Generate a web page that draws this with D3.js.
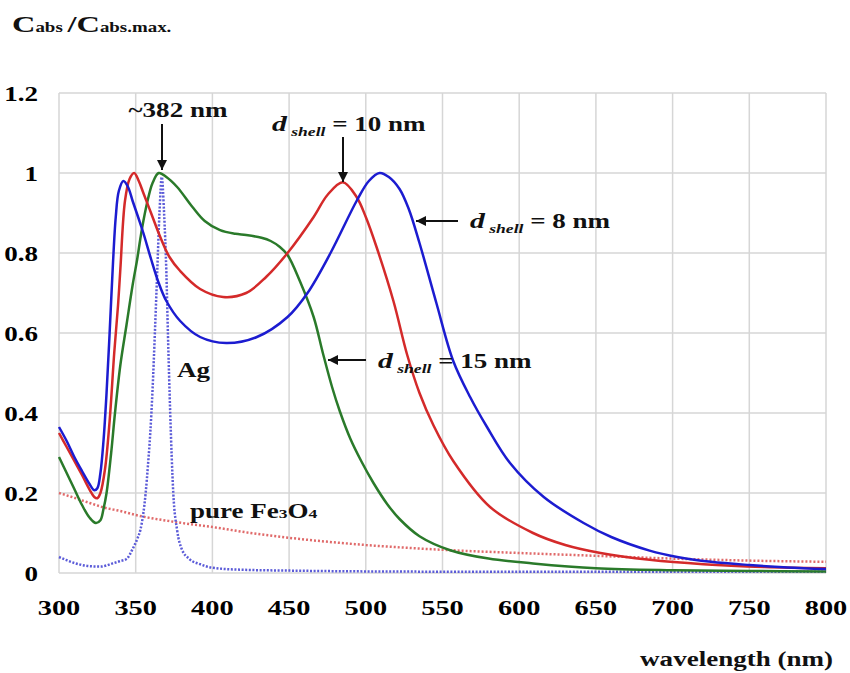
<!DOCTYPE html>
<html>
<meta charset="utf-8" />
<script src="https://d3js.org/d3.v7.min.js"></script>
<body>
<div id="my_dataviz"></div>
<script>
// wavelength (nm) / normalised absorption
var shell8 = [[300,0.365],[305,0.33],[310,0.29],[315,0.255],[320,0.222],[323,0.207],[325,0.212],[327,0.25],[329,0.33],[331,0.45],[333,0.6],[335,0.76],[337,0.89],[339,0.955],[342,0.98],[345,0.965],[348,0.93],[352,0.885],[355,0.85],[360,0.785],[365,0.725],[370,0.68],[379,0.63],[392,0.59],[409,0.575],[429,0.59],[449,0.64],[462,0.7],[477,0.8],[494,0.93],[502,0.98],[509,1.0],[515,0.99],[522,0.96],[528,0.91],[535,0.825],[546,0.675],[557,0.53],[568,0.44],[579,0.365],[594,0.275],[616,0.19],[642,0.125],[660,0.09],[685,0.056],[703,0.04],[725,0.028],[750,0.02],[775,0.014],[800,0.01]];
var shell10 = [[300,0.35],[305,0.315],[310,0.28],[315,0.245],[320,0.208],[323,0.19],[325,0.187],[327,0.2],[330,0.26],[333,0.38],[336,0.55],[338.5,0.67],[340,0.76],[343,0.93],[346,0.985],[349,1.0],[352,0.98],[355,0.95],[360,0.9],[366,0.84],[372,0.79],[379,0.755],[392,0.71],[407,0.69],[422,0.7],[435,0.74],[449,0.8],[466,0.89],[475,0.945],[485,0.977],[494,0.94],[500,0.89],[507,0.815],[518,0.68],[527,0.545],[535,0.45],[544,0.37],[557,0.28],[581,0.165],[609,0.1],[630,0.07],[653,0.05],[685,0.033],[720,0.022],[760,0.015],[800,0.012]];
var shell15 = [[300,0.29],[305,0.25],[310,0.21],[315,0.17],[320,0.138],[324,0.125],[327,0.132],[329,0.16],[331,0.2],[334,0.3],[336.5,0.4],[340,0.52],[344,0.62],[348,0.72],[351,0.785],[353,0.835],[355,0.88],[358,0.935],[361,0.975],[365,1.0],[370,0.99],[377,0.965],[387,0.915],[395,0.88],[405,0.857],[415,0.848],[422,0.845],[432,0.838],[438,0.83],[444,0.815],[449,0.795],[457,0.73],[466,0.64],[472,0.55],[478,0.465],[483,0.405],[490,0.335],[497,0.28],[505,0.225],[514,0.172],[522,0.135],[535,0.092],[555,0.057],[580,0.036],[609,0.024],[650,0.012],[700,0.007],[750,0.005],[800,0.004]];
var silver = [[300,0.04],[305,0.032],[310,0.025],[315,0.02],[320,0.017],[327,0.016],[335,0.024],[340,0.03],[344,0.035],[348,0.06],[351,0.085],[353,0.107],[355,0.15],[356.5,0.2],[358,0.27],[359.5,0.35],[361,0.46],[362.5,0.6],[364,0.75],[365.5,0.9],[367,0.99],[368.5,0.9],[370,0.75],[371,0.6],[372.5,0.4],[374.5,0.2],[377,0.107],[380,0.06],[385,0.035],[392,0.022],[400,0.013],[420,0.008],[450,0.006],[500,0.004],[600,0.003],[700,0.003],[800,0.003]];
var fe3o4 = [[300,0.2],[310,0.188],[320,0.175],[330,0.163],[340,0.155],[350,0.145],[375,0.128],[400,0.115],[425,0.1],[450,0.088],[500,0.07],[550,0.058],[600,0.05],[650,0.043],[700,0.036],[750,0.031],[800,0.028]];

var xTicks = [300,350,400,450,500,550,600,650,700,750,800];
var yTicks = [0,0.2,0.4,0.6,0.8,1,1.2];

var margin = {top: 93, right: 24, bottom: 100, left: 59},
    width = 850 - margin.left - margin.right,
    height = 673 - margin.top - margin.bottom;

var svg = d3.select("#my_dataviz")
  .append("svg")
    .attr("width", 850)
    .attr("height", 673)
    .style("background", "#fff");

var g = svg.append("g")
    .attr("transform", "translate(" + margin.left + "," + margin.top + ")");

var x = d3.scaleLinear().domain([300, 800]).range([0, width]);
var y = d3.scaleLinear().domain([0, 1.2]).range([height, 0]);

// the axis title is about 193px wide in the figure; stretch all text to that
var probe = svg.append("text").attr("font-weight", "bold").attr("font-size", 20).text("wavelength (nm)");
var SX = 193 / probe.node().getComputedTextLength();
probe.remove();

// grid
g.append("g").selectAll("line").data(xTicks).enter().append("line")
  .attr("x1", function(d){ return x(d) }).attr("x2", function(d){ return x(d) })
  .attr("y1", 0).attr("y2", height)
  .attr("stroke", "#d6d6d6").attr("stroke-width", 1.5);
g.append("g").selectAll("line").data(yTicks).enter().append("line")
  .attr("x1", 0).attr("x2", width)
  .attr("y1", function(d){ return y(d) }).attr("y2", function(d){ return y(d) })
  .attr("stroke", "#d6d6d6").attr("stroke-width", 1.5);

// tick labels
g.append("g").selectAll("text").data(xTicks).enter().append("text")
  .attr("transform", function(d){ return "translate(" + x(d) + "," + (height + 42) + ") scale(" + SX + ",1)" })
  .attr("text-anchor", "middle")
  .attr("font-weight", "bold").attr("font-size", 21)
  .text(function(d){ return d });
g.append("g").selectAll("text").data(yTicks).enter().append("text")
  .attr("transform", function(d){ return "translate(-21," + (y(d) + 8) + ") scale(" + SX + ",1)" })
  .attr("text-anchor", "end")
  .attr("font-weight", "bold").attr("font-size", 20)
  .text(function(d){ return d });

// curves
var smooth = d3.line()
  .x(function(d){ return x(d[0]) })
  .y(function(d){ return y(d[1]) })
  .curve(d3.curveCatmullRom.alpha(0.5));
var dotted = d3.line()
  .x(function(d){ return x(d[0]) })
  .y(function(d){ return y(d[1]) })
  .curve(d3.curveMonotoneX);

g.append("path").datum(fe3o4)
  .attr("fill", "none").attr("stroke", "#e06a6a").attr("stroke-width", 2.5)
  .attr("stroke-dasharray", "2,2").attr("d", dotted);
g.append("path").datum(silver)
  .attr("fill", "none").attr("stroke", "#5b5bd8").attr("stroke-width", 2.5)
  .attr("stroke-dasharray", "2,1.6").attr("d", dotted);
g.append("path").datum(shell15)
  .attr("fill", "none").attr("stroke", "#2a7a2a").attr("stroke-width", 2.5).attr("d", smooth);
g.append("path").datum(shell10)
  .attr("fill", "none").attr("stroke", "#d42a2a").attr("stroke-width", 2.5).attr("d", smooth);
g.append("path").datum(shell8)
  .attr("fill", "none").attr("stroke", "#1c1cd0").attr("stroke-width", 2.5).attr("d", smooth);

// arrows
svg.append("defs").append("marker")
  .attr("id", "head").attr("viewBox", "0 0 10 10")
  .attr("refX", 10).attr("refY", 5)
  .attr("markerWidth", 5).attr("markerHeight", 5)
  .attr("markerUnits", "strokeWidth")
  .attr("orient", "auto")
  .append("path").attr("d", "M0,0L10,5L0,10z").attr("fill", "#111");

function arrow(x1, y1, x2, y2) {
  svg.append("line")
    .attr("x1", x1).attr("y1", y1).attr("x2", x2).attr("y2", y2)
    .attr("stroke", "#111").attr("stroke-width", 2)
    .attr("marker-end", "url(#head)");
}
arrow(162, 124, 162, 170);
arrow(343, 137, 343, 182);
arrow(458, 221, 416, 221);
arrow(366, 360, 328, 360);

// labels
function label(px, py, anchor) {
  return svg.append("text")
    .attr("transform", "translate(" + px + "," + py + ") scale(" + SX + ",1)")
    .attr("text-anchor", anchor || "start")
    .attr("font-weight", "bold").attr("font-size", 20)
    .attr("fill", "#111");
}
function shellLabel(px, py, val) {
  var t = label(px, py);
  t.append("tspan").attr("font-style", "italic").attr("font-size", 22).text("d");
  t.append("tspan").attr("font-style", "italic").attr("font-size", 13).attr("dy", 5).text(" shell");
  t.append("tspan").attr("dy", -5).text(" = " + val + " nm");
}

label(178, 117, "middle").text("~382 nm");
shellLabel(272, 131, 10);
shellLabel(470, 228, 8);
shellLabel(378, 368, 15);
label(177, 377).text("Ag");

var fe = label(190, 518);
fe.append("tspan").text("pure Fe");
fe.append("tspan").attr("font-size", 13).text("3");
fe.append("tspan").text("O");
fe.append("tspan").attr("font-size", 13).text("4");

var ttl = label(12, 32);
ttl.append("tspan").attr("font-size", 24).text("C");
ttl.append("tspan").attr("font-size", 14).text("abs ");
ttl.append("tspan").attr("font-size", 24).text("/C");
ttl.append("tspan").attr("font-size", 14).text("abs.max.");

label(833, 666, "end").text("wavelength (nm)");
</script>
</body>
<style>
body { margin: 0; background: #fff; }
svg text { font-family: "Liberation Serif", "DejaVu Serif", "Times New Roman", serif; }
</style>
</html>
